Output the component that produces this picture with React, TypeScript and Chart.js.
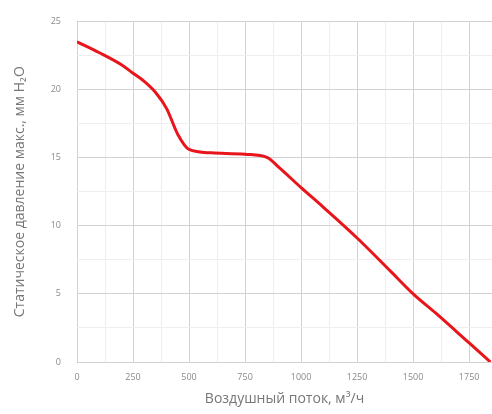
import React, { useEffect, useRef } from "react";
import { Chart, registerables } from "chart.js";

Chart.register(...registerables);

const airflow = [0, 100, 200, 250, 300, 350, 400, 450, 500, 600, 750, 850, 900, 1000, 1100, 1250, 1400, 1500, 1600, 1750, 1845];
const pressure = [23.5, 22.7, 21.8, 21.2, 20.6, 19.8, 18.6, 16.7, 15.6, 15.35, 15.25, 15.0, 14.3, 12.8, 11.35, 9.1, 6.65, 5.0, 3.6, 1.4, 0];
const xTickStep = 250;
const yTickStep = 5;
const xTitle = "Воздушный поток, м³/ч";
const yTitle = "Статическое давление макс., мм H₂O";

export default function App() {
  const ref = useRef<HTMLCanvasElement | null>(null);
  useEffect(() => {
    document.body.style.margin = "0";
    const ctx = ref.current!;
    const points = airflow.map((x, i) => ({ x, y: pressure[i] }));
    const chart = new Chart(ctx, {
      type: "line",
      data: {
        datasets: [
          {
            data: points,
            borderColor: "#e8151b",
            borderWidth: 3,
            pointRadius: 0,
            cubicInterpolationMode: "monotone",
            fill: false,
          },
        ],
      },
      options: {
        animation: false,
        responsive: false,
        maintainAspectRatio: false,
        layout: { padding: { top: 20, right: 0, left: 6, bottom: 7 } },
        plugins: { legend: { display: false }, tooltip: { enabled: false } },
        scales: {
          x: {
            type: "linear",
            min: 0,
            max: 1852,
            border: { display: false },
            grid: {
              drawTicks: false,
              color: (c: any) => {
                const v = c.tick?.value;
                if (v === undefined || v > 1800) return "rgba(0,0,0,0)";
                return v % xTickStep === 0 ? "#d2d2d2" : "#eeeeee";
              },
            },
            ticks: {
              stepSize: xTickStep / 2,
              includeBounds: false,
              padding: 10,
              maxRotation: 0,
              autoSkip: false,
              color: "#8a8a8a",
              font: { family: "Open Sans", size: 9 },
              callback: (v: any) => (v % xTickStep === 0 && v <= 1800 ? String(v) : ""),
            },
            title: {
              display: true,
              text: xTitle,
              color: "#777",
              font: { family: "Open Sans", size: 14 },
              padding: { top: 0, bottom: 0 },
            },
            afterFit: (s: any) => {
              s.height = 45;
            },
          },
          y: {
            min: 0,
            max: 25,
            border: { display: false },
            grid: {
              drawTicks: false,
              color: (c: any) => {
                const v = c.tick?.value;
                return v % yTickStep === 0 ? "#d2d2d2" : "#eeeeee";
              },
            },
            ticks: {
              stepSize: yTickStep / 2,
              padding: 16,
              color: "#8a8a8a",
              font: { family: "Open Sans", size: 9 },
              callback: (v: any) => (v % yTickStep === 0 ? String(v) : ""),
            },
            title: {
              display: true,
              text: yTitle,
              color: "#777",
              font: { family: "Open Sans", size: 14 },
              padding: { top: 6, bottom: 4 },
            },
            afterFit: (s: any) => {
              s.width = 71;
            },
          },
        },
      },
    });
    return () => chart.destroy();
  }, []);
  return (
    <div style={{ width: 492, height: 414 }}>
      <canvas ref={ref} width={492} height={414} style={{ display: "block" }} />
    </div>
  );
}
